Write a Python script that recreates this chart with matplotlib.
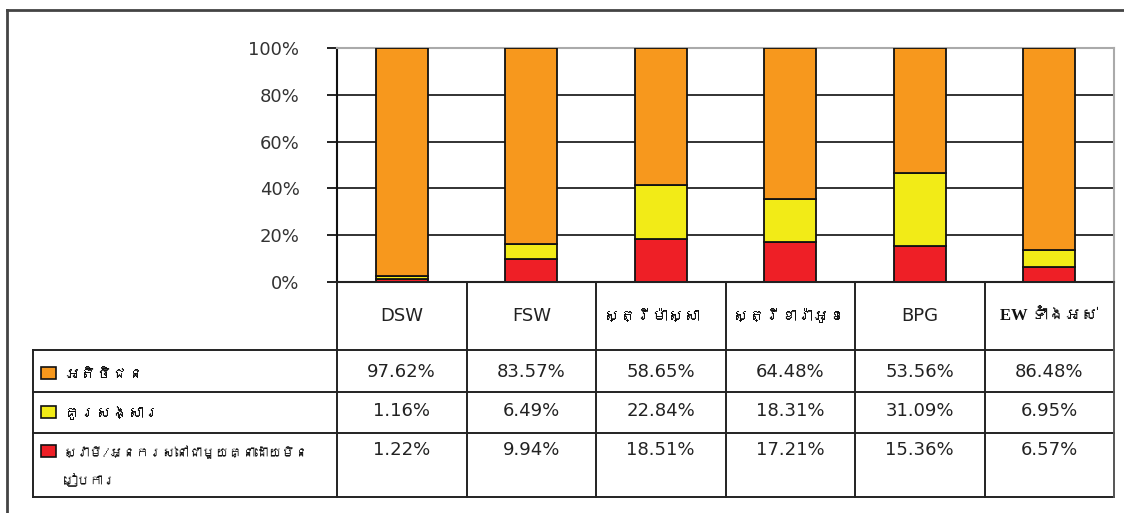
import matplotlib
matplotlib.use("Agg")
import matplotlib.pyplot as plt
from matplotlib import font_manager as fm
from matplotlib.patches import Rectangle
import numpy as np

# ---------------- data ----------------
categories = ["DSW", "FSW", "ស្ត្រីម៉ាស្សា", "ស្ត្រីខារ៉ាអូខេ", "BPG", "EW ទាំងអស់"]
series_names = ["អតិថិជន", "គូរសង្សារ", "ស្វាមី/អ្នករស់នៅជាមួយគ្នាដោយមិន\nរៀបការ"]
clients = [97.62, 83.57, 58.65, 64.48, 53.56, 86.48]
sweetheart = [1.16, 6.49, 22.84, 18.31, 31.09, 6.95]
partner = [1.22, 9.94, 18.51, 17.21, 15.36, 6.57]
yticks = [0, 20, 40, 60, 80, 100]
ytick_labels = ["0%", "20%", "40%", "60%", "80%", "100%"]

colors = ["#F7981D", "#F2EB17", "#EE1F26"]

# ---------------- fonts ----------------
def find_khmer():
    from matplotlib.ft2font import FT2Font
    seen = set()
    names = []
    for f in fm.fontManager.ttflist:
        if f.fname in seen:
            continue
        seen.add(f.fname)
        try:
            cm = FT2Font(f.fname).get_charmap()
            if 0x1780 in cm and 0x17B6 in cm:
                if f.name not in names:
                    names.append(f.name)
        except Exception:
            pass
    return names

khmer = find_khmer()
sans = ["DejaVu Sans"] + khmer + ["Noto Sans"]
kh_fam = khmer + ["Noto Sans", "DejaVu Sans"]
serif = ["Liberation Serif"] + khmer + ["DejaVu Serif"]

W, H = 1124, 513
fig = plt.figure(figsize=(W / 100, H / 100), dpi=100)

# layout in pixels
px_left, px_right = 337, 1114
px_top, px_zero = 48, 282
ncat = len(categories)
colw = (px_right - px_left) / ncat

ax = fig.add_axes([px_left / W, 1 - px_zero / H, (px_right - px_left) / W, (px_zero - px_top) / H])
x = np.arange(ncat)
bw = 52 / colw
b1 = np.array(partner)
b2 = b1 + np.array(sweetheart)
ax.bar(x, partner, width=bw, color=colors[2], edgecolor="#111", linewidth=1.3, zorder=3)
ax.bar(x, sweetheart, bottom=b1, width=bw, color=colors[1], edgecolor="#111", linewidth=1.3, zorder=3)
ax.bar(x, clients, bottom=b2, width=bw, color=colors[0], edgecolor="#111", linewidth=1.3, zorder=3)
ax.set_xlim(-0.5, ncat - 0.5)
ax.set_ylim(0, 100)
ax.set_yticks(yticks)
ax.set_yticklabels(ytick_labels, fontsize=13, color="#333", family=sans)
ax.set_xticks([])
ax.tick_params(axis="y", direction="out", length=7, width=1.3, color="#111", pad=20)
for yv in yticks[1:-1]:
    ax.axhline(yv, color="#222", lw=1.3, zorder=1)
ax.spines["left"].set_color("#111")
ax.spines["left"].set_linewidth(1.5)
ax.spines["top"].set_color("#aaa")
ax.spines["top"].set_linewidth(1.5)
ax.spines["right"].set_color("#aaa")
ax.spines["right"].set_linewidth(1.5)
ax.spines["bottom"].set_color("#222")
ax.spines["bottom"].set_linewidth(1.5)

# overlay in pixel coords for the table
ov = fig.add_axes([0, 0, 1, 1], facecolor="none")
ov.set_xlim(0, W)
ov.set_ylim(H, 0)
ov.axis("off")

lc = "#222"
lw = 1.4
tab_left = 33
row_y = [282, 350, 392, 433, 497]
col_x = [px_left + i * colw for i in range(ncat + 1)]
# horizontal lines
ov.plot([px_left, px_right], [row_y[0]] * 2, color=lc, lw=lw)
for yy in row_y[1:]:
    ov.plot([tab_left, px_right], [yy] * 2, color=lc, lw=lw)
# vertical lines
for xx in col_x:
    ov.plot([xx, xx], [row_y[0], row_y[-1]], color=lc if xx < px_right - 1 else "#555", lw=lw)
ov.plot([tab_left, tab_left], [row_y[1], row_y[-1]], color=lc, lw=lw)

# outer frame
ov.plot([7, 7], [10, H], color="#444", lw=2)
ov.plot([7, W], [10, 10], color="#444", lw=2)

# header labels
hy = 316
for i, c in enumerate(categories):
    cx = px_left + (i + 0.5) * colw
    if i in (2, 3):
        ov.text(col_x[i] + 8, hy, c, ha="left", va="center", fontsize=11.5, family=kh_fam,
                weight="bold", color="#111")
    elif i == 5:
        ov.text(cx, hy, c, ha="center", va="center", fontsize=12, family=serif, weight="bold", color="#111")
    else:
        ov.text(cx, hy, c, ha="center", va="center", fontsize=13, family=sans, color="#222")

# values
value_rows = [clients, sweetheart, partner]
val_y = [372, 411, 450]
for r, vals in enumerate(value_rows):
    for i, v in enumerate(vals):
        cx = px_left + (i + 0.5) * colw
        ov.text(cx, val_y[r], f"{v:.2f}%", ha="center", va="center", fontsize=13, family=sans, color="#222")

# legend cells
for r, name in enumerate(series_names):
    ov.add_patch(Rectangle((41, val_y[r] + 1 - 6), 15, 12, facecolor=colors[r], edgecolor="#111", lw=1.2))
    lines = name.split("\n")
    fs = 11.5 if len(lines) == 1 else 9.5
    for k, ln in enumerate(lines):
        ov.text(64, val_y[r] + 2 + k * 28, ln, ha="left", va="center", fontsize=fs, family=kh_fam,
                weight="bold", color="#111")

fig.savefig("out.png", dpi=100)
